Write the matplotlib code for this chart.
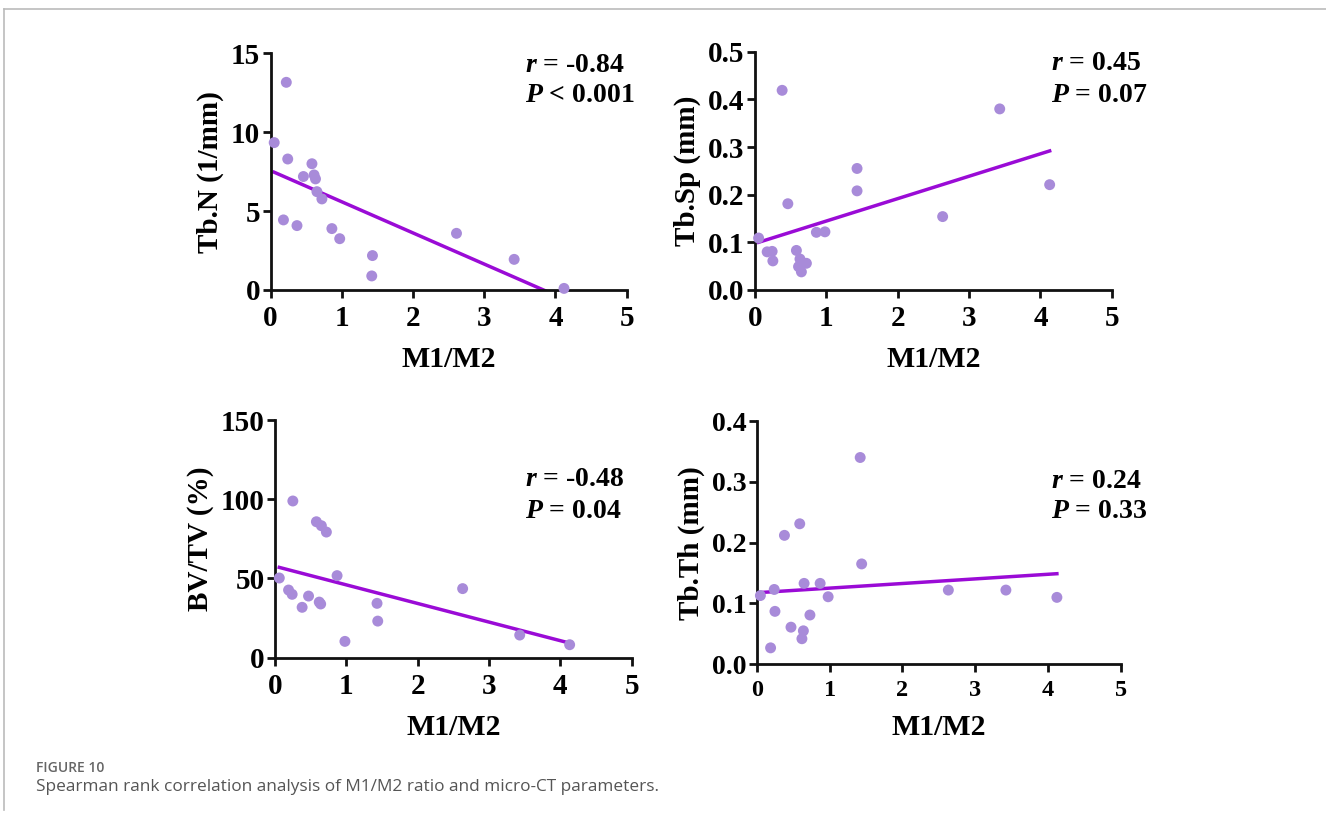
"""Spearman correlation panels: M1/M2 ratio vs micro-CT parameters."""
import matplotlib
matplotlib.use("Agg")
import matplotlib.pyplot as plt
import numpy as np

# ---- data ----
X_TBN = [0.05, 0.22, 0.24, 0.18, 0.37, 0.46, 0.58, 0.61, 0.63, 0.65, 0.72,
         0.86, 0.97, 1.43, 1.42, 2.61, 3.42, 4.12]
Y_TBN = [9.34, 13.16, 8.30, 4.44, 4.08, 7.19, 8.00, 7.29, 7.04, 6.23, 5.77,
         3.89, 3.25, 2.18, 0.89, 3.59, 1.94, 0.10]

X_TBSP = [0.05, 0.38, 0.17, 0.24, 0.25, 0.46, 0.58, 0.63, 0.61, 0.65, 0.72,
          0.86, 0.98, 1.43, 1.43, 2.63, 3.43, 4.13]
Y_TBSP = [0.109, 0.419, 0.080, 0.081, 0.061, 0.181, 0.083, 0.065, 0.049, 0.038,
          0.056, 0.121, 0.122, 0.255, 0.208, 0.154, 0.380, 0.221]

X_BVTV = [0.06, 0.25, 0.19, 0.24, 0.38, 0.47, 0.58, 0.65, 0.72, 0.62, 0.64,
          0.87, 0.98, 1.43, 1.44, 2.63, 3.43, 4.13]
Y_BVTV = [50.3, 98.9, 42.7, 40.0, 31.8, 38.9, 85.8, 83.3, 79.3, 35.1, 33.9,
          51.8, 10.3, 34.3, 23.1, 43.6, 14.3, 8.2]

X_TBTH = [0.05, 0.19, 0.24, 0.25, 0.38, 0.47, 0.59, 0.64, 0.62, 0.65, 0.73,
          0.87, 0.98, 1.42, 1.44, 2.63, 3.42, 4.12]
Y_TBTH = [0.113, 0.027, 0.123, 0.087, 0.212, 0.061, 0.231, 0.055, 0.042, 0.133,
          0.081, 0.133, 0.111, 0.340, 0.165, 0.122, 0.122, 0.110]

# fitted line (intercept, slope) as drawn in the figure
FITS = [(7.56, -1.973), (0.0977, 0.0470), (57.7, -11.74), (0.1176, 0.0076)]

Y_LABELS = ["Tb.N (1/mm)", "Tb.Sp (mm)", "BV/TV (%)", "Tb.Th (mm)"]
R_TEXT = ["-0.84", "0.45", "-0.48", "0.24"]
P_TEXT = ["< 0.001", "= 0.07", "= 0.04", "= 0.33"]
Y_TICKS = [[0, 5, 10, 15], [0.0, 0.1, 0.2, 0.3, 0.4, 0.5],
           [0, 50, 100, 150], [0.0, 0.1, 0.2, 0.3, 0.4]]
Y_TICKLABELS = [["0", "5", "10", "15"], ["0.0", "0.1", "0.2", "0.3", "0.4", "0.5"],
                ["0", "50", "100", "150"], ["0.0", "0.1", "0.2", "0.3", "0.4"]]
X_TICKS = [0, 1, 2, 3, 4, 5]

DOT = "#A88BD9"
LINE = "#9A0BD6"
INK = "#111111"

plt.rcParams.update({
    "font.family": "Liberation Serif",
    "font.weight": "bold",
    "mathtext.fontset": "custom",
    "mathtext.it": "Liberation Serif:italic:bold",
    "mathtext.rm": "Liberation Serif:bold",
})

fig = plt.figure(figsize=(13.26, 8.21), dpi=100)

# axes rectangles (left, bottom, width, height)
rects = [(0.2041, 0.6468, 0.2685, 0.2883),
         (0.5694, 0.6468, 0.2690, 0.2902),
         (0.2074, 0.1989, 0.2690, 0.2895),
         (0.5707, 0.1909, 0.2747, 0.2963)]
text_pos = [(0.714, 0.95, 0.82), (0.829, 0.95, 0.818),
            (0.701, 0.748, 0.614), (0.807, 0.75, 0.627)]

xs = [X_TBN, X_TBSP, X_BVTV, X_TBTH]
ys = [Y_TBN, Y_TBSP, Y_BVTV, Y_TBTH]

for i in range(4):
    ax = fig.add_axes(rects[i])
    x = np.array(xs[i])
    y = np.array(ys[i])
    ax.scatter(x, y, s=62, color=DOT, edgecolors="none", zorder=3, clip_on=False)
    b0, b1 = FITS[i]
    xl = np.array([x.min(), x.max()])
    ax.plot(xl, b0 + b1 * xl, color=LINE, lw=2.5, zorder=2)

    ax.set_xlim(0, 5)
    ax.set_ylim(Y_TICKS[i][0], Y_TICKS[i][-1])
    ax.set_xticks(X_TICKS)
    ax.set_yticks(Y_TICKS[i], Y_TICKLABELS[i])
    xfs = 17.5 if i == 3 else 21
    yfs = 20 if i == 3 else 21
    ax.tick_params(axis="x", labelsize=xfs, width=2, length=6, direction="out",
                   color=INK, pad=5)
    ax.tick_params(axis="y", labelsize=yfs, width=2, length=6, direction="out",
                   color=INK, pad=1.5)
    for lab in ax.get_xticklabels() + ax.get_yticklabels():
        lab.set_fontweight("bold")
    for s in ("top", "right"):
        ax.spines[s].set_visible(False)
    for s in ("left", "bottom"):
        ax.spines[s].set_linewidth(2)
        ax.spines[s].set_color(INK)

    ax.set_xlabel("M1/M2", fontsize=21.5, fontweight="bold", labelpad=10)
    ax.set_ylabel(Y_LABELS[i], fontsize=21, fontweight="bold", labelpad=5)

    tx, ty1, ty2 = text_pos[i]
    ax.text(tx, ty1, "$r$ = " + R_TEXT[i], transform=ax.transAxes, fontsize=20,
            fontweight="bold", ha="left", va="center")
    ax.text(tx, ty2, "$P$ " + P_TEXT[i], transform=ax.transAxes, fontsize=20,
            fontweight="bold", ha="left", va="center")

# page frame lines
fig.add_artist(plt.Line2D([0.003, 1.0], [1 - 9.5 / 821] * 2, color="#BBBBBB", lw=1.2,
                          transform=fig.transFigure))
fig.add_artist(plt.Line2D([0.003, 0.003], [1 - 9.5 / 821, 1 - 810 / 821], color="#BBBBBB",
                          lw=1.2, transform=fig.transFigure))

fig.text(36 / 1326, 1 - 768 / 821, "FIGURE 10", fontsize=10, color="#666666",
         family="Open Sans", fontweight="semibold", ha="left", va="center")
fig.text(36 / 1326, 1 - 787 / 821,
         "Spearman rank correlation analysis of M1/M2 ratio and micro-CT parameters.",
         fontsize=12.4, color="#555555", family="Open Sans", fontweight="normal",
         ha="left", va="center")

fig.savefig("out.png", dpi=100)
